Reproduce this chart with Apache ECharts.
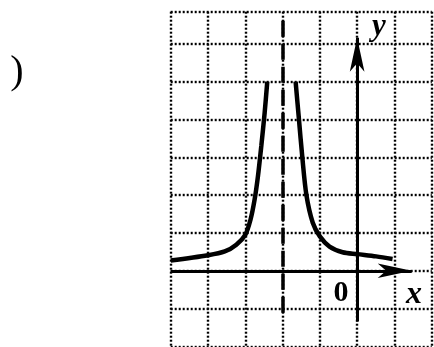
<!DOCTYPE html>
<html>
<head>
<meta charset="utf-8">
<script src="https://cdn.jsdelivr.net/npm/echarts@6/dist/echarts.min.js"></script>
<style>
  html, body { margin: 0; padding: 0; background: #fff; }
  #main { width: 434px; height: 347px; }
</style>
</head>
<body>
<div id="main"></div>
<script>
// axis ranges (grid units)
const xRange = [-5, 2]
const yRange = [-2, 6.85]
const asymptoteX = -2

// curve: left branch, right branch
const leftX = [-5, -4, -3.55, -3.24, -3, -2.86, -2.75, -2.66, -2.57, -2.48, -2.41]
const leftY = [0.27, 0.41, 0.51, 0.69, 0.95, 1.35, 1.88, 2.5, 3.3, 4.18, 5.0]
const rightX = [-1.65, -1.56, -1.47, -1.36, -1.19, -1.0, -0.74, -0.39, 0, 0.51, 0.95]
const rightY = [5.0, 4.0, 3.0, 2.0, 1.27, 0.91, 0.64, 0.49, 0.44, 0.38, 0.31]

// where the drawn axes / dashed line start and end
const xAxisSpan = [-5, 1.92]
const yAxisSpan = [-1.34, 6.61]
const dashSpan = [6.61, -1.11]

const G = { left: 170.7, top: 11.7, width: 261, height: 334.7 }
const arrowLen = 34
// the arrow symbol is centred on the end point, so pull the end back by half its length
const xPerPx = (xRange[1] - xRange[0]) / G.width
const yPerPx = (yRange[1] - yRange[0]) / G.height

const pairs = (xs, ys) => xs.map((x, i) => [x, ys[i]])

const dotted = { color: '#000', width: 2.4, type: [2, 2] }

const chart = echarts.init(document.getElementById('main'))
const option = {
    animation: false,
    backgroundColor: '#fff',
    grid: { left: G.left, top: G.top, width: G.width, height: G.height, show: false },
    xAxis: {
        type: 'value', min: xRange[0], max: xRange[1], interval: 1,
        axisLine: { show: false }, axisTick: { show: false }, axisLabel: { show: false },
        splitLine: { show: true, lineStyle: dotted }
    },
    yAxis: {
        type: 'value', min: yRange[0], max: yRange[1], interval: 1,
        axisLine: { show: false }, axisTick: { show: false }, axisLabel: { show: false },
        splitLine: { show: true, lineStyle: dotted }
    },
    series: [
        {
            type: 'line', data: [], silent: true,
            markLine: {
                silent: true, animation: false,
                label: { show: false },
                emphasis: { disabled: true },
                data: [
                    [
                        { coord: [asymptoteX, dashSpan[0]], symbol: 'none', lineStyle: { color: '#000', width: 3.5, type: [16, 7] } },
                        { coord: [asymptoteX, dashSpan[1]], symbol: 'none' }
                    ],
                    [
                        { coord: [xAxisSpan[0], 0], symbol: 'none', lineStyle: { color: '#000', width: 3, type: 'solid' } },
                        { coord: [xAxisSpan[1] - arrowLen / 2 * xPerPx, 0], symbol: 'arrow', symbolSize: [11, arrowLen] }
                    ],
                    [
                        { coord: [0, yAxisSpan[0]], symbol: 'none', lineStyle: { color: '#000', width: 3, type: 'solid' } },
                        { coord: [0, yAxisSpan[1] - arrowLen / 2 * yPerPx], symbol: 'arrow', symbolSize: [11, arrowLen] }
                    ]
                ]
            }
        },
        {
            type: 'line', data: pairs(leftX, leftY), smooth: 0.3, showSymbol: false, silent: true,
            lineStyle: { color: '#000', width: 4.5 }, z: 5
        },
        {
            type: 'line', data: pairs(rightX, rightY), smooth: 0.3, showSymbol: false, silent: true,
            lineStyle: { color: '#000', width: 4.5 }, z: 5
        }
    ],
    graphic: [
        { type: 'text', x: 17, y: 72, style: { text: ')', font: '40px "Liberation Serif"', fill: '#000', align: 'center', verticalAlign: 'middle' } },
        { type: 'text', x: 379, y: 27, style: { text: 'y', font: 'italic bold 31px "Liberation Serif"', fill: '#000', align: 'center', verticalAlign: 'middle' } },
        { type: 'text', x: 414, y: 295, style: { text: 'x', font: 'italic bold 32px "Liberation Serif"', fill: '#000', align: 'center', verticalAlign: 'middle' } },
        { type: 'text', x: 341, y: 293, style: { text: '0', font: 'bold 30px "Liberation Serif"', fill: '#000', align: 'center', verticalAlign: 'middle' } }
    ]
}
chart.setOption(option)
</script>
</body>
</html>
